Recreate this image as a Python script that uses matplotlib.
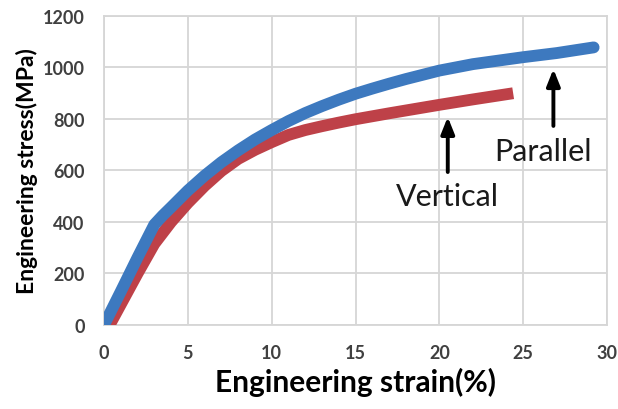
import matplotlib
matplotlib.use('Agg')
import matplotlib.pyplot as plt

# 
# Data (strain in %, stress in MPa)
# 
parallel_strain = [0.0, 1.0, 2.0, 3.0, 3.5, 4.0, 5.0, 6.0, 7.0, 8.0, 9.0, 10.0, 11.0, 12.0, 13.0, 14.0, 15.0, 16.0, 17.0, 18.0, 20.0, 22.0, 25.0, 27.0, 29.2]
parallel_stress = [0, 130, 262, 390, 425, 457, 522, 580, 632, 678, 720, 757, 792, 823, 850, 875, 898, 918, 937, 955, 988, 1013, 1040, 1056, 1078]

vertical_strain = [0.0, 0.4, 1.0, 2.0, 3.0, 4.0, 5.0, 6.0, 7.0, 8.0, 9.0, 10.0, 11.0, 12.0, 13.0, 14.0, 15.0, 17.0, 20.0, 22.0, 24.4]
vertical_stress = [15, 8, 80, 200, 315, 400, 474, 540, 598, 645, 680, 710, 738, 757, 772, 786, 799, 822, 855, 876, 900]

x_ticks = [0, 5, 10, 15, 20, 25, 30]
y_ticks = [0, 200, 400, 600, 800, 1000, 1200]

font_name = 'Lato'

# 
# Figure
# 
fig = plt.figure(figsize=(6.18, 4.10), dpi=100)
ax = fig.add_axes([0.1683, 0.2049, 0.814, 0.7537])

ax.plot(vertical_strain, vertical_stress, color='#be4148', lw=8.5,
        solid_capstyle='butt', solid_joinstyle='round', zorder=3)
ax.plot(parallel_strain, parallel_stress, color='#3d79bf', lw=8.5,
        solid_capstyle='round', solid_joinstyle='round', zorder=4)

ax.set_xlim(0, 30)
ax.set_ylim(0, 1200)
ax.set_xticks(x_ticks)
ax.set_yticks(y_ticks)
ax.grid(True, color='#d6d6d6', lw=1.3, zorder=0)
ax.set_axisbelow(True)
for s in ax.spines.values():
    s.set_color('#d6d6d6')
    s.set_linewidth(1.3)
ax.tick_params(length=0, pad=14, labelcolor='#404040')
for lab in ax.get_xticklabels() + ax.get_yticklabels():
    lab.set_fontfamily(font_name)
    lab.set_fontweight('bold')
    lab.set_fontsize(13)

ax.set_xlabel('Engineering strain(%)', fontfamily=font_name, fontweight='bold', fontsize=21.5, labelpad=4)
ax.set_ylabel('Engineering stress(MPa)', fontfamily=font_name, fontweight='bold', fontsize=16.5, labelpad=3)

# 
# Annotations
# 
arrow_style = dict(arrowstyle='-|>,head_length=1.0,head_width=0.4', color='black', lw=2.8, shrinkA=0, shrinkB=0)
ax.annotate('', xy=(20.5, 808), xytext=(20.5, 594), arrowprops=arrow_style, zorder=5)
ax.annotate('', xy=(26.8, 994), xytext=(26.8, 773), arrowprops=arrow_style, zorder=5)
ax.text(20.45, 501, 'Vertical', fontfamily=font_name, fontsize=22, ha='center', va='center', color='#1a1a1a')
ax.text(26.2, 676, 'Parallel', fontfamily=font_name, fontsize=22, ha='center', va='center', color='#1a1a1a')

fig.savefig('out.png', dpi=100)
